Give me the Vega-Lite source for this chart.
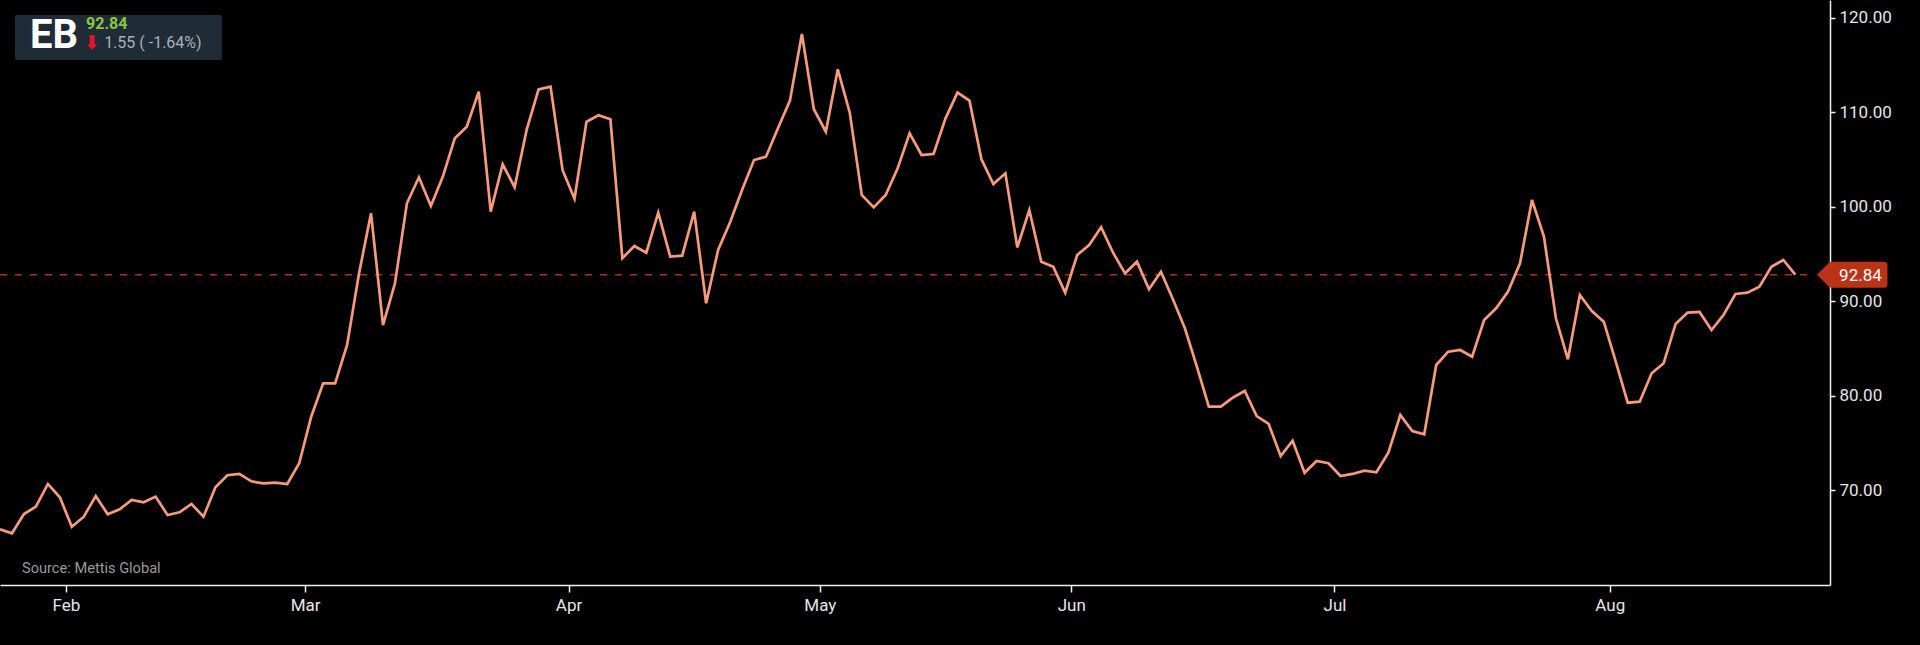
{
  "$schema": "https://vega.github.io/schema/vega-lite/v6.json",
  "width": 1830,
  "height": 585,
  "autosize": {"type": "none"},
  "padding": {"left": 0, "top": 0, "right": 90, "bottom": 60},
  "background": "#000000",
  "datasets": {
    "prices": [
      {"i": 0, "close": 65.89}, {"i": 1, "close": 65.47}, {"i": 2, "close": 67.51}, {"i": 3, "close": 68.29},
      {"i": 4, "close": 70.69}, {"i": 5, "close": 69.28}, {"i": 6, "close": 66.17}, {"i": 7, "close": 67.23},
      {"i": 8, "close": 69.42}, {"i": 9, "close": 67.48}, {"i": 10, "close": 68.01}, {"i": 11, "close": 69.0},
      {"i": 12, "close": 68.75}, {"i": 13, "close": 69.35}, {"i": 14, "close": 67.41}, {"i": 15, "close": 67.69},
      {"i": 16, "close": 68.57}, {"i": 17, "close": 67.23}, {"i": 18, "close": 70.34}, {"i": 19, "close": 71.61},
      {"i": 20, "close": 71.75}, {"i": 21, "close": 70.97}, {"i": 22, "close": 70.76}, {"i": 23, "close": 70.83},
      {"i": 24, "close": 70.69}, {"i": 25, "close": 72.88}, {"i": 26, "close": 77.81}, {"i": 27, "close": 81.34},
      {"i": 28, "close": 81.34}, {"i": 29, "close": 85.4}, {"i": 30, "close": 92.98}, {"i": 31, "close": 99.33},
      {"i": 32, "close": 87.51}, {"i": 33, "close": 91.92}, {"i": 34, "close": 100.39}, {"i": 35, "close": 103.14},
      {"i": 36, "close": 100.11}, {"i": 37, "close": 103.21}, {"i": 38, "close": 107.27}, {"i": 39, "close": 108.5},
      {"i": 40, "close": 112.2}, {"i": 41, "close": 99.5}, {"i": 42, "close": 104.52}, {"i": 43, "close": 102.08},
      {"i": 44, "close": 108.15}, {"i": 45, "close": 112.45}, {"i": 46, "close": 112.73}, {"i": 47, "close": 103.92},
      {"i": 48, "close": 100.87}, {"i": 49, "close": 109.0}, {"i": 50, "close": 109.7}, {"i": 51, "close": 109.28},
      {"i": 52, "close": 94.57}, {"i": 53, "close": 95.87}, {"i": 54, "close": 95.16}, {"i": 55, "close": 99.4},
      {"i": 56, "close": 94.74}, {"i": 57, "close": 94.85}, {"i": 58, "close": 99.5}, {"i": 59, "close": 89.81},
      {"i": 60, "close": 95.45}, {"i": 61, "close": 98.38}, {"i": 62, "close": 101.8}, {"i": 63, "close": 104.97},
      {"i": 64, "close": 105.32}, {"i": 65, "close": 108.33}, {"i": 66, "close": 111.25}, {"i": 67, "close": 118.3},
      {"i": 68, "close": 110.34}, {"i": 69, "close": 107.97}, {"i": 70, "close": 114.57}, {"i": 71, "close": 109.98},
      {"i": 72, "close": 101.27}, {"i": 73, "close": 99.96}, {"i": 74, "close": 101.27}, {"i": 75, "close": 104.09},
      {"i": 76, "close": 107.8}, {"i": 77, "close": 105.5}, {"i": 78, "close": 105.61}, {"i": 79, "close": 109.38},
      {"i": 80, "close": 112.1}, {"i": 81, "close": 111.25}, {"i": 82, "close": 105.04}, {"i": 83, "close": 102.43},
      {"i": 84, "close": 103.56}, {"i": 85, "close": 95.72}, {"i": 86, "close": 99.68}, {"i": 87, "close": 94.21},
      {"i": 88, "close": 93.68}, {"i": 89, "close": 90.93}, {"i": 90, "close": 94.92}, {"i": 91, "close": 95.98},
      {"i": 92, "close": 97.85}, {"i": 93, "close": 95.16}, {"i": 94, "close": 92.98}, {"i": 95, "close": 94.21},
      {"i": 96, "close": 91.29}, {"i": 97, "close": 93.15}, {"i": 98, "close": 90.23}, {"i": 99, "close": 87.16},
      {"i": 100, "close": 83.1}, {"i": 101, "close": 78.87}, {"i": 102, "close": 78.87}, {"i": 103, "close": 79.82},
      {"i": 104, "close": 80.53}, {"i": 105, "close": 77.88}, {"i": 106, "close": 77.04}, {"i": 107, "close": 73.65},
      {"i": 108, "close": 75.27}, {"i": 109, "close": 71.88}, {"i": 110, "close": 73.12}, {"i": 111, "close": 72.88},
      {"i": 112, "close": 71.53}, {"i": 113, "close": 71.75}, {"i": 114, "close": 72.1}, {"i": 115, "close": 71.93},
      {"i": 116, "close": 74.0}, {"i": 117, "close": 77.99}, {"i": 118, "close": 76.3}, {"i": 119, "close": 75.95},
      {"i": 120, "close": 83.28}, {"i": 121, "close": 84.69}, {"i": 122, "close": 84.87}, {"i": 123, "close": 84.16},
      {"i": 124, "close": 88.04}, {"i": 125, "close": 89.28}, {"i": 126, "close": 91.04}, {"i": 127, "close": 94.04},
      {"i": 128, "close": 100.74}, {"i": 129, "close": 96.86}, {"i": 130, "close": 88.22}, {"i": 131, "close": 83.88},
      {"i": 132, "close": 90.69}, {"i": 133, "close": 88.99}, {"i": 134, "close": 87.86}, {"i": 135, "close": 83.63},
      {"i": 136, "close": 79.29}, {"i": 137, "close": 79.4}, {"i": 138, "close": 82.4}, {"i": 139, "close": 83.46},
      {"i": 140, "close": 87.62}, {"i": 141, "close": 88.82}, {"i": 142, "close": 88.89}, {"i": 143, "close": 86.98},
      {"i": 144, "close": 88.57}, {"i": 145, "close": 90.79}, {"i": 146, "close": 90.93}, {"i": 147, "close": 91.57},
      {"i": 148, "close": 93.68}, {"i": 149, "close": 94.39}, {"i": 150, "close": 92.84}
    ]
  },
  "layer": [
    {
      "data": {"values": [{}]},
      "mark": {"type": "rule", "color": "#a8321c", "strokeWidth": 1.5, "strokeDash": [7, 8]},
      "encoding": {
        "x": {"datum": 0, "type": "quantitative"},
        "x2": {"datum": 151.6},
        "y": {"datum": 92.84, "type": "quantitative"}
      }
    },
    {
      "data": {"name": "prices"},
      "mark": {"type": "line", "color": "#f79b7e", "strokeWidth": 2.7, "strokeJoin": "miter"},
      "encoding": {
        "x": {
          "field": "i",
          "type": "quantitative",
          "scale": {"domain": [0, 152.9], "nice": false, "zero": false},
          "axis": {
            "title": null,
            "values": [5.5, 25.5, 47.5, 68.5, 89.5, 111.5, 134.5],
            "labelExpr": "['Feb','Mar','Apr','May','Jun','Jul','Aug'][indexof([5.5,25.5,47.5,68.5,89.5,111.5,134.5], datum.value)]",
            "grid": false
          }
        },
        "y": {
          "field": "close",
          "type": "quantitative",
          "scale": {"domain": [60, 121.9], "nice": false, "zero": false},
          "axis": {
            "title": null,
            "orient": "right",
            "values": [70, 80, 90, 100, 110, 120],
            "format": ".2f",
            "grid": false
          }
        }
      }
    },
    {
      "data": {"values": [{}]},
      "mark": {"type": "rect", "color": "#1f2b37", "cornerRadius": 2},
      "encoding": {
        "x": {"datum": 1.25, "type": "quantitative"},
        "x2": {"datum": 18.55},
        "y": {"datum": 120.32, "type": "quantitative"},
        "y2": {"datum": 115.56}
      }
    },
    {
      "data": {"values": [{"t": "EB"}]},
      "mark": {"type": "text", "color": "#ffffff", "font": "Roboto", "fontSize": 40, "fontWeight": "bold", "align": "left", "baseline": "middle", "dy": 1},
      "encoding": {
        "x": {"datum": 2.5, "type": "quantitative"},
        "y": {"datum": 118.2, "type": "quantitative"},
        "text": {"field": "t"}
      }
    },
    {
      "data": {"values": [{"t": "92.84"}]},
      "mark": {"type": "text", "color": "#8cc63e", "font": "Roboto", "fontSize": 16, "fontWeight": "bold", "align": "left", "baseline": "middle"},
      "encoding": {
        "x": {"datum": 7.19, "type": "quantitative"},
        "y": {"datum": 119.31, "type": "quantitative"},
        "text": {"field": "t"}
      }
    },
    {
      "data": {"values": [{"t": "⬇"}]},
      "mark": {"type": "text", "color": "#e8132b", "font": "DejaVu Sans", "fontSize": 19, "fontWeight": "bold", "align": "left", "baseline": "middle", "dx": -2},
      "encoding": {
        "x": {"datum": 7.19, "type": "quantitative"},
        "y": {"datum": 117.32, "type": "quantitative"},
        "text": {"field": "t"}
      }
    },
    {
      "data": {"values": [{"t": "1.55 ( -1.64%)"}]},
      "mark": {"type": "text", "color": "#a9b0b8", "font": "Roboto", "fontSize": 16, "align": "left", "baseline": "middle"},
      "encoding": {
        "x": {"datum": 8.7, "type": "quantitative"},
        "y": {"datum": 117.32, "type": "quantitative"},
        "text": {"field": "t"}
      }
    },
    {
      "data": {"values": [{"t": "Source: Mettis Global"}]},
      "mark": {"type": "text", "color": "#9a9a9a", "font": "Roboto", "fontSize": 14.6, "align": "left", "baseline": "middle"},
      "encoding": {
        "x": {"datum": 1.84, "type": "quantitative"},
        "y": {"datum": 61.69, "type": "quantitative"},
        "text": {"field": "t"}
      }
    },
    {
      "data": {"values": [{}]},
      "mark": {"type": "rect", "color": "#ba3316", "cornerRadius": 3},
      "encoding": {
        "x": {"datum": 152.8, "type": "quantitative"},
        "x2": {"datum": 157.7},
        "y": {"datum": 94.2, "type": "quantitative"},
        "y2": {"datum": 91.45}
      }
    },
    {
      "data": {"values": [{}]},
      "mark": {"type": "point", "shape": "M-1,0L0,-1L0,1Z", "filled": true, "opacity": 1, "color": "#ba3316", "size": 676, "strokeWidth": 0},
      "encoding": {
        "x": {"datum": 152.9, "type": "quantitative"},
        "y": {"datum": 92.84, "type": "quantitative"}
      }
    },
    {
      "data": {"values": [{"t": "92.84"}]},
      "mark": {"type": "text", "color": "#ffffff", "font": "Roboto", "fontSize": 17, "align": "left", "baseline": "middle", "dy": 1},
      "encoding": {
        "x": {"datum": 153.66, "type": "quantitative"},
        "y": {"datum": 92.84, "type": "quantitative"},
        "text": {"field": "t"}
      }
    }
  ],
  "config": {
    "view": {"stroke": null},
    "axis": {
      "labelFont": "Roboto",
      "labelFontSize": 17,
      "labelColor": "#e6e6e6",
      "domainColor": "#f0f0f0",
      "domainWidth": 1.5,
      "tickColor": "#f0f0f0",
      "tickWidth": 1.5
    },
    "axisX": {"tickSize": 7, "labelPadding": 5},
    "axisY": {"tickSize": 5, "labelPadding": 4, "labelBaseline": "middle"}
  }
}
